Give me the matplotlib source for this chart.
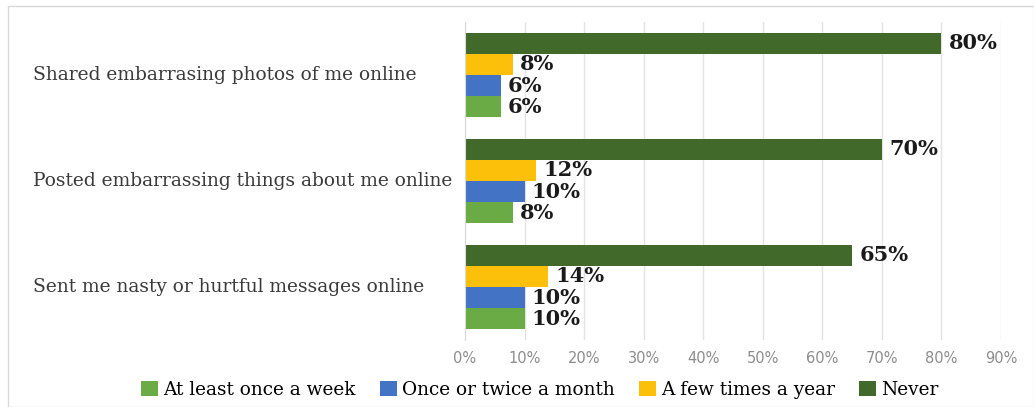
import numpy as np
import matplotlib.pyplot as plt
from matplotlib.patches import Rectangle
from matplotlib.transforms import blended_transform_factory

categories = ['Shared embarrasing photos of me online',
              'Posted embarrassing things about me online',
              'Sent me nasty or hurtful messages online']
series = ['At least once a week', 'Once or twice a month', 'A few times a year', 'Never']
weekly = [6, 8, 10]
monthly = [6, 10, 10]
yearly = [8, 12, 14]
never = [80, 70, 65]
colors = ['#6aab45', '#4273c5', '#fcc00a', '#41692a']

values = [weekly, monthly, yearly, never]

fig = plt.figure(figsize=(10.34, 4.07), dpi=100)
ax = fig.add_axes([465 / 1034, 1 - 340 / 407, (1001 - 465) / 1034, (340 - 22) / 407])

# thin frame around the chart area
fig.patches.append(Rectangle((8 / 1034, 0), 1 - 8 / 1034, 1 - 6 / 407, transform=fig.transFigure,
                             fill=False, edgecolor='#d9d9d9', linewidth=1))

y = np.arange(len(categories))
h = 0.2
offsets = [0.3, 0.1, -0.1, -0.3]
for vals, col, off, name in zip(values, colors, offsets, series):
    bars = ax.barh(y + off, vals, height=h, color=col, label=name)
    for b, v in zip(bars, vals):
        ax.text(b.get_width() + 1.2, b.get_y() + b.get_height() / 2, f'{v}%',
                va='center', ha='left', fontsize=15, fontweight='bold',
                family='DejaVu Serif', color='#1a1a1a')

ax.set_xlim(0, 90)
ax.set_ylim(-0.5, 2.5)
ax.invert_yaxis()
ax.set_xticks(range(0, 91, 10))
ax.set_xticklabels([f'{t}%' for t in range(0, 91, 10)], fontsize=10.5, color='#8c8c8c')
ax.set_yticks(y)
ax.set_yticklabels([])
ax.tick_params(axis='y', length=0)
ax.tick_params(axis='x', length=0, pad=8)
ax.xaxis.grid(True, color='#e3e3e3', linewidth=1)
ax.set_axisbelow(True)
for s in ['top', 'right', 'bottom']:
    ax.spines[s].set_visible(False)
ax.spines['left'].set_color('#d9d9d9')

# category names, left aligned in the margin
tr = blended_transform_factory(fig.transFigure, ax.transData)
for yi, cat in zip(y, categories):
    ax.text(33 / 1034, yi, cat, transform=tr, ha='left', va='center',
            fontsize=13.4, family='DejaVu Serif', color='#3a3a3a')

handles, labels = ax.get_legend_handles_labels()
fig.legend(handles, labels, loc='center', bbox_to_anchor=(540 / 1034, 1 - 390 / 407), ncol=4,
           frameon=False, prop={'family': 'DejaVu Serif', 'size': 13.3},
           handlelength=0.9, handleheight=0.9, handletextpad=0.3, columnspacing=1.3)

fig.savefig('out.png', dpi=100)
